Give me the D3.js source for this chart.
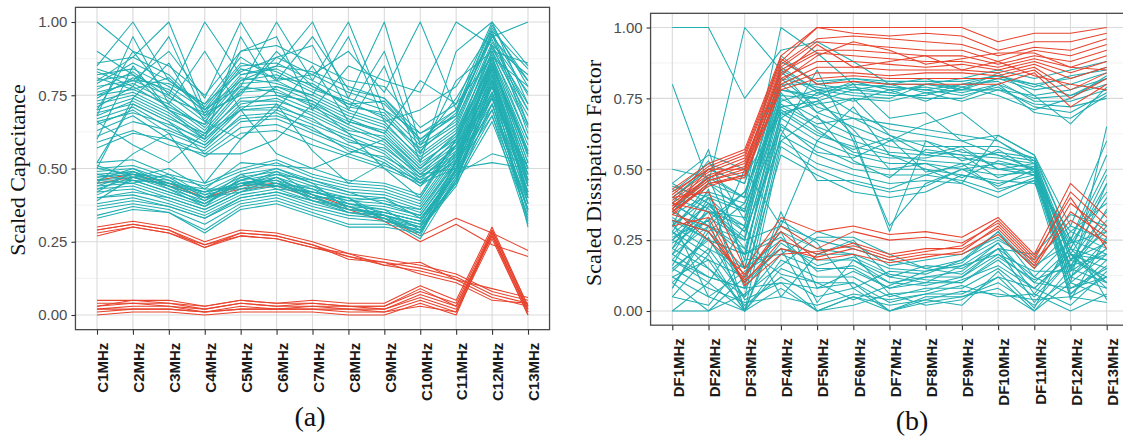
<!DOCTYPE html>
<html><head><meta charset="utf-8">
<script src="https://cdn.jsdelivr.net/npm/d3@7"></script>
<style>body{margin:0;background:#fff}svg{display:block}</style>
</head><body><svg id="c" width="1123" height="442"></svg>
<script>
const catsA = ["C1MHz","C2MHz","C3MHz","C4MHz","C5MHz","C6MHz","C7MHz","C8MHz","C9MHz","C10MHz","C11MHz","C12MHz","C13MHz"];
const catsB = ["DF1MHz","DF2MHz","DF3MHz","DF4MHz","DF5MHz","DF6MHz","DF7MHz","DF8MHz","DF9MHz","DF10MHz","DF11MHz","DF12MHz","DF13MHz"];
const yTicks = [0, 0.25, 0.5, 0.75, 1];
const yMinor = [0.125, 0.375, 0.625, 0.875];
const titleA = "Scaled Capacitance", titleB = "Scaled Dissipation Factor";
const tagA = "(a)", tagB = "(b)";

// Panel (a) teal: upper bundle
const tealAUpper = [
[.82,.84,.78,.70,.85,.86,.80,.74,.70,.58,.66,.95,.80],
[.80,.82,.76,.68,.82,.84,.78,.72,.68,.55,.64,.92,.72],
[.78,.80,.75,.66,.80,.82,.76,.70,.66,.53,.62,.90,.68],
[.76,.79,.73,.64,.79,.80,.74,.68,.64,.52,.60,.88,.60],
[.75,.77,.72,.63,.77,.78,.73,.67,.62,.50,.62,.86,.55],
[.73,.76,.70,.62,.76,.77,.71,.65,.60,.49,.58,.84,.50],
[.72,.75,.69,.61,.74,.75,.70,.64,.59,.48,.60,.82,.46],
[.70,.74,.68,.60,.72,.74,.68,.62,.58,.47,.56,.80,.42],
[.69,.72,.66,.59,.71,.72,.66,.61,.56,.46,.58,.78,.40],
[.67,.71,.64,.58,.70,.70,.65,.60,.55,.45,.55,.76,.38],
[.65,.70,.62,.57,.68,.69,.63,.58,.53,.45,.54,.74,.36],
[.63,.68,.60,.56,.66,.67,.62,.57,.52,.44,.53,.72,.35],
[.84,.80,.79,.72,.83,.88,.82,.76,.72,.60,.68,.97,.84],
[.79,.86,.80,.71,.86,.83,.77,.73,.67,.57,.65,.93,.76],
[.74,.81,.77,.67,.81,.79,.75,.69,.65,.54,.63,.89,.64],
[.71,.78,.71,.65,.78,.76,.72,.66,.63,.51,.61,.87,.58],
[.68,.73,.67,.62,.73,.73,.69,.63,.61,.50,.59,.85,.52],
[.66,.69,.65,.60,.70,.71,.67,.59,.57,.48,.57,.83,.48],
[.61,.66,.63,.58,.67,.68,.64,.56,.54,.47,.55,.81,.44],
[.77,.83,.74,.69,.84,.81,.79,.71,.69,.56,.67,.91,.70],
[.59,.63,.58,.55,.64,.65,.60,.55,.51,.46,.52,.70,.33],
[.86,.88,.82,.70,.80,.85,.83,.78,.74,.62,.70,.99,.78],
[.81,.77,.81,.69,.75,.90,.78,.72,.73,.59,.69,.96,.62],
[.57,.62,.60,.54,.62,.63,.58,.54,.50,.45,.50,.68,.31]
];
// Panel (a) teal: zig-zag outliers
const tealAOutliers = [
[1.00,.90,.85,.75,.90,.92,.86,.80,.78,.64,.72,1.00,.85],
[.85,1.00,.80,.72,.88,.80,.95,.77,.74,.60,.70,.98,.80],
[.80,.88,1.00,.70,.78,1.00,.80,1.00,.70,.62,.68,.96,.75],
[.70,.90,.75,1.00,.82,.85,1.00,.74,1.00,.58,.74,.94,.70],
[.75,.80,.90,.74,1.00,.80,.82,.90,.76,1.00,.70,.95,1.00],
[.60,.85,.70,.65,.90,.95,.70,.85,.80,.76,1.00,.92,.82],
[.83,.78,.95,.68,.76,.88,.92,.70,.90,.55,.80,.90,.86],
[.68,.95,.72,.90,.70,.78,.75,.95,.66,.70,.78,.97,.65],
[.90,.82,.70,.60,.95,.75,.73,.65,.85,.52,.90,1.00,.72],
[.50,.74,.86,.66,.60,.70,.85,.66,.62,.80,.72,.88,.78],
[.52,.72,.66,.55,.55,.60,.72,.62,.50,.40,.60,.86,.56],
[.66,.58,.52,.62,.70,.55,.50,.55,.60,.48,.50,.80,.46],
[.45,.55,.62,.45,.60,.72,.56,.45,.52,.44,.58,.74,.50]
];
// Panel (a) teal: lower bundle
const tealALower = [
[.52,.53,.48,.45,.50,.53,.48,.45,.44,.40,.58,.90,.60],
[.50,.51,.47,.44,.49,.52,.47,.44,.43,.39,.56,.88,.56],
[.49,.50,.46,.42,.48,.50,.46,.43,.42,.38,.55,.86,.52],
[.48,.49,.45,.41,.47,.49,.45,.42,.41,.37,.54,.84,.50],
[.47,.48,.44,.40,.46,.48,.44,.41,.40,.36,.53,.82,.48],
[.46,.47,.43,.39,.45,.47,.43,.40,.39,.35,.52,.80,.46],
[.45,.46,.42,.38,.44,.46,.42,.39,.38,.34,.51,.78,.45],
[.44,.45,.41,.37,.43,.45,.41,.38,.37,.34,.50,.76,.44],
[.43,.44,.40,.36,.42,.44,.40,.37,.36,.33,.49,.74,.42],
[.42,.43,.39,.35,.41,.43,.39,.36,.35,.32,.48,.72,.40],
[.40,.41,.38,.34,.40,.42,.38,.35,.34,.31,.47,.70,.38],
[.38,.40,.37,.33,.39,.41,.37,.34,.33,.30,.46,.68,.36],
[.36,.38,.36,.31,.38,.40,.36,.33,.32,.30,.45,.66,.34],
[.34,.37,.35,.29,.37,.39,.35,.31,.31,.29,.46,.75,.32],
[.33,.36,.35,.28,.36,.38,.34,.30,.30,.28,.50,.80,.30],
[.51,.47,.50,.43,.52,.51,.50,.46,.45,.41,.60,.92,.65],
[.46,.50,.44,.42,.44,.48,.46,.42,.38,.36,.52,.85,.55],
[.41,.46,.42,.38,.45,.44,.42,.39,.40,.33,.48,.78,.42],
[.40,.42,.40,.36,.42,.45,.40,.36,.35,.32,.50,.52,.50],
[.37,.39,.37,.33,.40,.42,.39,.35,.34,.31,.48,.55,.52],
[.44,.48,.47,.40,.46,.44,.44,.38,.36,.29,.45,.80,.40],
[.48,.46,.45,.43,.43,.47,.40,.40,.34,.30,.52,.82,.44],
[.42,.49,.43,.37,.47,.45,.43,.37,.33,.28,.47,.76,.48],
[.46,.45,.48,.41,.44,.49,.41,.38,.35,.32,.49,.84,.38],
[.50,.48,.44,.38,.46,.50,.45,.36,.34,.27,.50,.88,.46],
[.39,.47,.46,.39,.48,.43,.42,.40,.32,.29,.44,.72,.36],
[.47,.49,.45,.42,.45,.46,.39,.37,.34,.28,.53,.86,.54],
[.43,.47,.44,.40,.42,.47,.41,.35,.33,.26,.46,.79,.41]
];
// Panel (a) red: hidden under teal, middle band, bottom band
const redAHidden = [
[.46,.48,.45,.40,.44,.45,.41,.37,.33,.27,.33,.28,.22],
[.45,.47,.44,.40,.43,.44,.40,.36,.32,.25,.31,.24,.20]
];
const redAMiddle = [
[.30,.32,.30,.25,.29,.28,.25,.21,.19,.17,.14,.08,.05],
[.29,.31,.29,.24,.28,.27,.24,.20,.18,.16,.13,.07,.04],
[.28,.30,.28,.24,.27,.26,.23,.20,.17,.15,.12,.06,.03],
[.27,.30,.28,.23,.28,.27,.24,.19,.18,.14,.11,.05,.04],
[.29,.31,.29,.23,.27,.26,.23,.21,.17,.18,.12,.09,.06]
];
const redABottom = [
[.05,.05,.05,.03,.05,.04,.05,.04,.04,.10,.05,.30,.03],
[.04,.04,.04,.02,.04,.03,.04,.03,.03,.08,.04,.29,.02],
[.03,.04,.03,.02,.04,.03,.03,.03,.02,.07,.03,.28,.01],
[.02,.03,.03,.01,.03,.02,.03,.02,.02,.06,.02,.27,.00],
[.01,.02,.02,.01,.02,.02,.02,.01,.01,.05,.01,.26,.00],
[.00,.01,.01,.00,.01,.01,.01,.00,.00,.04,.00,.28,.01],
[.03,.05,.04,.03,.05,.04,.04,.03,.03,.09,.03,.27,.02],
[.02,.02,.02,.01,.02,.02,.02,.02,.01,.03,.01,.29,.03]
];

// Panel (b) teal
const tealBTop = [
[.45,.55,.50,.90,.80,.82,.80,.80,.82,.85,.82,.85,.88],
[.40,.50,.45,.86,.78,.80,.79,.78,.80,.83,.80,.82,.86],
[.35,.48,.40,.84,.77,.79,.77,.80,.79,.82,.78,.80,.84],
[.30,.42,.38,.80,.80,.78,.80,.77,.78,.84,.76,.78,.82],
[.28,.45,.35,.78,.76,.81,.78,.79,.77,.80,.75,.76,.80],
[.25,.38,.30,.82,.79,.77,.76,.76,.80,.81,.74,.74,.78],
[.22,.35,.33,.76,.75,.80,.79,.78,.76,.79,.72,.70,.77],
[.20,.40,.28,.74,.78,.76,.75,.80,.78,.78,.73,.72,.75],
[.38,.30,.42,.72,.74,.78,.77,.75,.75,.80,.70,.68,.76],
[.42,.52,.47,.70,.73,.75,.74,.77,.74,.78,.76,.66,.79],
[.33,.25,.20,.68,.77,.74,.78,.74,.79,.76,.71,.75,.83],
[.18,.33,.25,.88,.81,.82,.81,.81,.81,.83,.79,.83,.85]
];
const tealBOutliers = [
[1.00,1.00,.75,.92,.95,.88,.80,.82,.78,.82,.80,.76,.82],
[.80,.45,1.00,.85,.70,.75,.62,.55,.58,.50,.52,.20,.10],
[.50,.47,.40,1.00,.91,.80,.68,.70,.60,.55,.50,.15,.45],
[.30,.57,.15,.62,.85,.60,.30,.45,.50,.52,.48,.10,.65],
[.05,.20,.50,.30,.60,.72,.55,.50,.45,.62,.55,.25,.55]
];
const tealBMiddle = [
[.40,.50,.45,.85,.78,.70,.64,.62,.60,.62,.55,.30,.60],
[.35,.45,.40,.82,.72,.68,.62,.58,.58,.58,.54,.25,.50],
[.30,.40,.35,.80,.70,.65,.60,.60,.56,.55,.53,.22,.45],
[.25,.35,.30,.75,.68,.62,.58,.56,.55,.54,.52,.20,.40],
[.20,.30,.25,.72,.65,.60,.56,.55,.54,.52,.51,.18,.35],
[.15,.25,.20,.70,.62,.58,.55,.53,.52,.50,.50,.15,.30],
[.10,.22,.15,.68,.60,.55,.52,.52,.50,.48,.49,.12,.25],
[.45,.38,.22,.65,.58,.52,.50,.50,.48,.45,.48,.10,.20],
[.32,.28,.10,.62,.55,.50,.48,.48,.46,.42,.47,.08,.15],
[.28,.15,.05,.60,.52,.48,.45,.46,.45,.40,.46,.05,.12],
[.22,.43,.00,.58,.50,.45,.42,.44,.50,.44,.50,.22,.48],
[.12,.18,.12,.55,.48,.42,.40,.42,.48,.46,.45,.28,.38],
[.38,.53,.32,.78,.75,.62,.28,.60,.53,.56,.54,.18,.28],
[.26,.32,.42,.73,.66,.68,.66,.64,.62,.60,.53,.12,.22],
[.18,.12,.08,.66,.56,.54,.60,.66,.70,.60,.52,.06,.18],
[.36,.47,.18,.77,.64,.56,.54,.54,.57,.50,.48,.24,.42],
[.08,.28,.38,.64,.46,.46,.43,.48,.52,.43,.46,.16,.32],
[.43,.36,.26,.69,.74,.64,.50,.52,.47,.53,.50,.20,.08],
[.34,.41,.36,.71,.63,.57,.61,.49,.51,.57,.49,.14,.36],
[.16,.37,.28,.60,.69,.53,.47,.57,.55,.47,.51,.04,.26]
];
const tealBLow = [
[.40,.35,.25,.30,.25,.22,.18,.15,.18,.25,.18,.30,.25],
[.38,.30,.20,.28,.22,.20,.15,.14,.17,.28,.15,.28,.22],
[.35,.28,.15,.25,.20,.25,.12,.16,.15,.22,.12,.25,.20],
[.32,.25,.10,.22,.18,.18,.10,.12,.12,.20,.10,.22,.18],
[.30,.22,.05,.20,.15,.15,.08,.10,.10,.18,.08,.20,.15],
[.28,.20,.00,.18,.12,.12,.05,.08,.08,.15,.05,.18,.12],
[.25,.18,.00,.15,.10,.10,.03,.06,.06,.12,.00,.15,.10],
[.22,.15,.02,.12,.05,.08,.00,.05,.05,.10,.02,.12,.08],
[.20,.12,.08,.10,.00,.05,.00,.03,.05,.08,.00,.10,.05],
[.18,.10,.00,.08,.00,.05,.02,.04,.07,.06,.04,.05,.03],
[.15,.08,.03,.05,.02,.06,.04,.06,.09,.05,.06,.00,.06],
[.12,.05,.00,.35,.08,.14,.08,.12,.14,.24,.10,.08,.12],
[.10,.00,.12,.28,.03,.18,.12,.10,.16,.20,.14,.14,.22],
[.05,.02,.18,.20,.28,.24,.16,.18,.20,.26,.16,.24,.28],
[.00,.00,.06,.16,.26,.26,.20,.15,.13,.22,.20,.34,.30],
[.00,.10,.30,.05,.20,.20,.06,.07,.11,.16,.08,.02,.14],
[.24,.32,.00,.32,.24,.08,.14,.13,.18,.28,.12,.06,.16],
[.27,.38,.20,.26,.14,.16,.10,.09,.12,.22,.03,.18,.24],
[.14,.26,.04,.10,.08,.10,.00,.04,.02,.14,.01,.26,.04],
[.32,.05,.14,.22,.00,.02,.06,.02,.04,.12,.08,.20,.18],
[.44,.40,.08,.24,.16,.19,.13,.11,.10,.19,.11,.16,.20],
[.08,.30,.22,.13,.10,.04,.09,.14,.16,.24,.06,.22,.10]
];
// Panel (b) red
const redBTop = [
[.43,.52,.57,.90,1.00,1.00,1.00,1.00,1.00,.95,.98,.98,1.00],
[.42,.50,.55,.88,1.00,.98,.97,.98,.97,.92,.95,.95,.98],
[.40,.49,.54,.87,.96,.97,.96,.95,.94,.90,.93,.92,.96],
[.39,.48,.52,.86,.95,.94,.93,.92,.92,.88,.92,.90,.94],
[.38,.47,.51,.85,.92,.92,.91,.90,.90,.87,.90,.88,.92],
[.37,.46,.50,.84,.91,.90,.89,.88,.88,.86,.89,.86,.90],
[.36,.46,.49,.82,.88,.88,.87,.86,.87,.85,.88,.84,.88],
[.35,.45,.48,.80,.86,.86,.85,.85,.85,.84,.87,.82,.86],
[.35,.44,.48,.79,.84,.84,.83,.84,.84,.83,.86,.78,.84],
[.34,.45,.47,.78,.82,.83,.82,.82,.82,.82,.85,.75,.82],
[.41,.51,.56,.89,.80,.81,.80,.80,.80,.80,.84,.72,.80],
[.37,.47,.53,.83,.94,.86,.88,.90,.85,.88,.83,.80,.78],
[.36,.50,.50,.81,.90,.95,.92,.87,.89,.91,.91,.86,.85]
];
const redBLow = [
[.40,.42,.15,.33,.28,.30,.27,.28,.26,.33,.20,.45,.33],
[.38,.35,.12,.30,.22,.28,.25,.26,.24,.31,.18,.42,.30],
[.34,.30,.10,.25,.20,.24,.20,.22,.22,.29,.16,.38,.28],
[.32,.28,.11,.22,.19,.22,.18,.20,.20,.27,.15,.35,.26],
[.36,.25,.13,.28,.18,.20,.17,.19,.21,.30,.17,.32,.24],
[.30,.33,.09,.20,.21,.23,.19,.21,.23,.32,.19,.40,.22]
];

const TEAL = "#21aeb2", RED = "#e8432d";
const svg = d3.select("#c");

function panel(cfg) {
  const x = d3.scalePoint().domain(cfg.cats).range(cfg.xr);
  const y = d3.scaleLinear().domain([0, 1]).range(cfg.yr);
  const step = x.step();
  const left = x(cfg.cats[0]) - 0.6 * step, right = x(cfg.cats[cfg.cats.length - 1]) + 0.6 * step;
  const top = y(1.05), bottom = y(-0.05);
  const g = svg.append("g");
  g.selectAll(".mn").data(yMinor).join("line")
    .attr("x1", left).attr("x2", right).attr("y1", d => y(d)).attr("y2", d => y(d))
    .attr("stroke", "#efefef").attr("stroke-width", 0.8);
  g.selectAll(".mj").data(yTicks).join("line")
    .attr("x1", left).attr("x2", right).attr("y1", d => y(d)).attr("y2", d => y(d))
    .attr("stroke", "#dadada").attr("stroke-width", 1.1);
  g.selectAll(".vg").data(cfg.cats).join("line")
    .attr("x1", d => x(d)).attr("x2", d => x(d)).attr("y1", top).attr("y2", bottom)
    .attr("stroke", "#dadada").attr("stroke-width", 1.1);
  const line = d3.line().x((d, i) => x(cfg.cats[i])).y(d => y(d));
  cfg.layers.forEach(([data, col]) => {
    g.append("g").selectAll("path").data(data).join("path")
      .attr("d", line).attr("fill", "none").attr("stroke", col)
      .attr("stroke-width", 1.05).attr("stroke-linejoin", "round");
  });
  g.append("rect").attr("x", left).attr("y", top).attr("width", right - left).attr("height", bottom - top)
    .attr("fill", "none").attr("stroke", "#4a4a4a").attr("stroke-width", 1.3);
  const ya = g.append("g").attr("transform", `translate(${left},0)`)
    .call(d3.axisLeft(y).tickValues(yTicks).tickFormat(d3.format(".2f")).tickSize(4).tickPadding(4));
  ya.select(".domain").remove();
  ya.selectAll("line").attr("stroke", "#333").attr("stroke-width", 1.1);
  ya.selectAll("text").attr("font-family", "Liberation Sans, Arial, sans-serif").attr("font-size", 15).attr("fill", "#4d4d4d");
  const xa = g.append("g").attr("transform", `translate(0,${bottom})`)
    .call(d3.axisBottom(x).tickSize(5).tickPadding(0));
  xa.select(".domain").remove();
  xa.selectAll("line").attr("stroke", "#333").attr("stroke-width", 1.1);
  xa.selectAll("text")
    .attr("transform", "rotate(-90)")
    .attr("text-anchor", "end").attr("x", -13).attr("y", 0).attr("dy", "0.72em")
    .attr("font-family", "Liberation Sans, Arial, sans-serif").attr("font-weight", "bold")
    .attr("font-size", 15).attr("fill", "#1a1a1a");
  svg.append("text").attr("transform", `translate(${cfg.titleX},${cfg.titleY}) rotate(-90)`)
    .attr("text-anchor", "middle").attr("font-family", "Liberation Serif, Times New Roman, serif")
    .attr("font-size", 22).attr("fill", "#111").text(cfg.title);
  svg.append("text").attr("x", cfg.tagX).attr("y", cfg.tagY).attr("text-anchor", "middle")
    .attr("font-family", "Liberation Serif, Times New Roman, serif").attr("font-size", 28)
    .attr("fill", "#111").text(cfg.tag);
}

panel({cats: catsA, xr: [97, 528], yr: [315, 22],
  layers: [[redAHidden, RED], [tealAUpper, TEAL], [tealAOutliers, TEAL], [tealALower, TEAL], [redAMiddle, RED], [redABottom, RED]],
  title: titleA, titleX: 25, titleY: 170, tag: tagA, tagX: 310, tagY: 426});
panel({cats: catsB, xr: [672.3, 1106.7], yr: [311, 27.5],
  layers: [[tealBTop, TEAL], [tealBOutliers, TEAL], [tealBMiddle, TEAL], [tealBLow, TEAL], [redBTop, RED], [redBLow, RED]],
  title: titleB, titleX: 601, titleY: 173, tag: tagB, tagX: 912, tagY: 430});
</script></body></html>
